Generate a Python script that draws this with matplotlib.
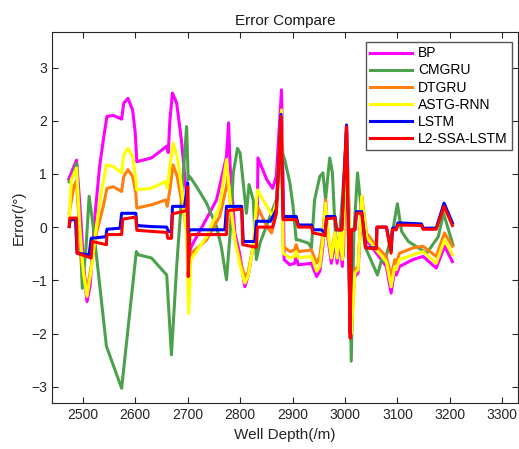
import matplotlib.pyplot as plt

plt.rcParams['font.family'] = ['Liberation Sans', 'DejaVu Sans']

# BP
bp_x = [2473, 2488, 2496, 2502, 2508, 2514, 2522, 2532, 2540, 2546, 2558, 2574, 2578, 2586, 2595,
        2600, 2603, 2631, 2660, 2663, 2666, 2671, 2679, 2688, 2698, 2703, 2707, 2730, 2755, 2774,
        2778, 2781, 2790, 2799, 2809, 2815, 2825, 2833, 2834, 2851, 2862, 2869, 2879, 2882, 2884,
        2895, 2904, 2907, 2911, 2936, 2946, 2952, 2958, 2963, 2968, 2974, 2981, 2985, 2990, 2995,
        3003, 3010, 3019, 3025, 3032, 3041, 3060, 3079, 3088, 3095, 3098, 3104, 3130, 3149, 3174,
        3190, 3205]
bp_y = [0.9, 1.26, 0.2, -0.8, -1.4, -1.1, 0.1, 1.14, 1.7, 2.08, 2.1, 2.03, 2.33, 2.42, 2.2,
        1.77, 1.23, 1.3, 1.52, 1.4, 2.0, 2.52, 2.33, 1.64, 0.58, -0.49, -0.36, 0.05, 0.51, 1.33,
        1.96, 1.14, -0.11, -0.49, -1.12, -0.93, -0.36, 0.26, 1.3, 0.89, 0.73, 0.95, 2.58, 0.89, -0.61,
        -0.71, -0.68, -0.55, -0.71, -0.68, -0.93, -0.83, -0.36, 0.51, -0.24, -0.68, -0.24, -0.68, -0.24, -0.74,
        1.89, -0.5, -0.93, -0.86, 0.58, -0.24, -0.49, -0.74, -1.24, -0.8, -0.9, -0.74, -0.61, -0.55, -0.77,
        -0.36, -0.65]

# CMGRU
cm_x = [2474, 2480, 2488, 2493, 2499, 2506, 2512, 2520, 2545, 2574, 2602, 2606, 2631, 2660, 2669,
        2679, 2688, 2698, 2701, 2704, 2717, 2736, 2755, 2764, 2774, 2781, 2787, 2795, 2800, 2806,
        2812, 2817, 2825, 2831, 2838, 2869, 2879, 2885, 2895, 2901, 2907, 2911, 2930, 2936, 2942,
        2952, 2958, 2963, 2968, 2971, 2976, 2981, 2984, 2990, 2997, 3003, 3009, 3012, 3017, 3024,
        3038, 3062, 3070, 3076, 3092, 3100, 3108, 3121, 3156, 3178, 3188, 3206]
cm_y = [0.85, 0.95, 1.2, 0.3, -1.15, -0.4, 0.58, 0.0, -2.24, -3.03, -0.46, -0.52, -0.58, -0.9, -2.4,
        -0.74, 0.51, 1.89, 0.89, 0.95, 0.76, 0.45, 0.01, -0.36, -0.99, -0.11, 1.02, 1.48, 1.39, 0.83,
        0.26, 0.8, 0.51, -0.61, -0.3, 0.51, 1.45, 1.27, 0.83, 0.39, -0.24, -0.24, -0.3, -0.39, 0.51,
        0.95, 1.02, 0.51, 1.02, 1.3, 1.02, 0.01, -0.55, -0.11, 0.83, 1.77, -0.74, -2.52, -0.11, 1.02,
        -0.36, -0.9, -0.61, -0.65, -0.02, 0.44, -0.08, -0.27, -0.49, -0.18, 0.26, -0.33]

# DTGRU
dt_x = [2474, 2483, 2488, 2497, 2508, 2516, 2526, 2539, 2546, 2558, 2574, 2578, 2586, 2595, 2601,
        2603, 2631, 2658, 2661, 2666, 2672, 2680, 2688, 2698, 2703, 2707, 2736, 2761, 2774, 2777,
        2784, 2793, 2803, 2809, 2815, 2825, 2833, 2851, 2860, 2869, 2879, 2882, 2895, 2904, 2907,
        2911, 2936, 2946, 2952, 2958, 2963, 2968, 2974, 2981, 2985, 2990, 2997, 3003, 3009, 3012,
        3019, 3025, 3032, 3041, 3060, 3079, 3088, 3095, 3098, 3104, 3130, 3149, 3174, 3190, 3205]
dt_y = [0.26, 0.76, 0.89, -0.61, -1.18, -0.74, -0.11, 0.39, 0.73, 0.76, 0.67, 0.95, 1.08, 0.95, 0.64,
        0.36, 0.42, 0.51, 0.39, 0.7, 1.17, 0.95, 0.51, -0.05, -0.8, -0.49, -0.24, 0.2, 0.76, 0.95,
        0.14, -0.36, -0.74, -0.93, -0.86, -0.36, 0.39, 0.01, -0.11, 0.26, 2.2, -0.36, -0.46, -0.43, -0.33,
        -0.46, -0.43, -0.68, -0.55, -0.11, 0.51, -0.24, -0.49, -0.11, -0.49, -0.11, -0.55, 1.77, -0.11, -2.0,
        -0.8, -0.74, 0.58, -0.11, -0.36, -0.55, -0.93, -0.61, -0.68, -0.49, -0.39, -0.36, -0.55, -0.11, -0.36]

# ASTG-RNN
as_x = [2474, 2478, 2488, 2494, 2501, 2508, 2516, 2526, 2535, 2545, 2558, 2574, 2578, 2586, 2595,
        2601, 2603, 2631, 2658, 2661, 2666, 2672, 2680, 2688, 2698, 2702, 2706, 2736, 2761, 2774,
        2781, 2790, 2799, 2809, 2815, 2825, 2833, 2851, 2862, 2869, 2879, 2882, 2895, 2904, 2907,
        2911, 2936, 2946, 2952, 2958, 2963, 2968, 2974, 2981, 2985, 2990, 2995, 3003, 3009, 3012,
        3019, 3025, 3032, 3041, 3060, 3079, 3088, 3095, 3098, 3104, 3130, 3149, 3174, 3190, 3205]
as_y = [0.1, 0.89, 1.11, 0.01, -0.86, -1.3, -0.8, 0.01, 0.64, 1.17, 1.14, 1.02, 1.36, 1.48, 1.33,
        0.89, 0.7, 0.73, 0.86, 0.73, 1.14, 1.58, 1.33, 0.76, -0.11, -1.62, -0.61, -0.18, 0.39, 1.27,
        0.51, -0.24, -0.68, -1.05, -0.93, -0.36, 0.7, 0.39, 0.2, 0.45, 2.2, -0.49, -0.58, -0.55, -0.46,
        -0.58, -0.55, -0.83, -0.74, -0.24, 0.45, -0.11, -0.58, -0.11, -0.58, -0.11, -0.61, 1.77, -0.24, -2.0,
        -0.86, -0.8, 0.58, -0.18, -0.43, -0.65, -1.12, -0.74, -0.8, -0.61, -0.52, -0.46, -0.68, -0.24, -0.52]

# LSTM
ls_x = [2474, 2476, 2486, 2489, 2512, 2516, 2544, 2546, 2571, 2574, 2601, 2603, 2631, 2660, 2663,
        2669, 2671, 2694, 2700, 2701, 2704, 2771, 2774, 2803, 2806, 2828, 2831, 2858, 2869, 2878,
        2882, 2907, 2911, 2936, 2939, 2955, 2962, 2965, 2981, 2984, 2994, 3003, 3010, 3012, 3019,
        3022, 3032, 3040, 3060, 3061, 3079, 3088, 3091, 3098, 3101, 3146, 3149, 3174, 3189, 3205]
ls_y = [0.01, 0.14, 0.14, -0.49, -0.52, -0.21, -0.18, -0.04, -0.02, 0.26, 0.26, 0.03, 0.01, 0.0, -0.08,
        -0.08, 0.39, 0.39, 0.83, -0.11, -0.05, -0.05, 0.39, 0.39, -0.27, -0.27, 0.11, 0.11, 0.33, 2.12,
        0.2, 0.2, 0.04, 0.04, -0.05, -0.05, -0.11, 0.2, 0.2, -0.05, -0.05, 1.92, -2.0, -0.05, -0.05,
        0.29, 0.29, -0.39, -0.39, 0.0, 0.0, -0.45, -0.02, -0.02, 0.08, 0.06, -0.02, -0.02, 0.45, 0.08]

# L2-SSA-LSTM
l2_x = [2474, 2475, 2488, 2489, 2516, 2518, 2545, 2546, 2574, 2576, 2601, 2603, 2631, 2660, 2662,
        2669, 2671, 2698, 2700, 2701, 2704, 2774, 2776, 2803, 2805, 2831, 2833, 2862, 2869, 2878,
        2882, 2907, 2911, 2936, 2939, 2955, 2962, 2965, 2981, 2984, 2994, 3003, 3010, 3012, 3019,
        3022, 3032, 3040, 3060, 3061, 3079, 3088, 3090, 3098, 3101, 3146, 3149, 3174, 3189, 3205]
l2_y = [0.01, 0.17, 0.17, -0.49, -0.58, -0.27, -0.33, -0.14, -0.14, 0.15, 0.19, -0.06, -0.08, -0.1, -0.21,
        -0.21, 0.25, 0.31, 0.76, -0.93, -0.14, -0.14, 0.31, 0.34, -0.33, -0.38, 0.0, 0.0, 0.26, 2.08,
        0.14, 0.14, 0.0, 0.0, -0.11, -0.14, -0.16, 0.16, 0.17, -0.05, -0.05, 1.89, -2.09, -0.05, -0.05,
        0.26, 0.26, -0.39, -0.41, 0.0, 0.0, -0.49, -0.05, -0.05, 0.04, 0.03, -0.04, -0.04, 0.39, 0.03]

series = [
    ("BP", bp_x, bp_y, "#ff00ff"),
    ("CMGRU", cm_x, cm_y, "#4ca24c"),
    ("DTGRU", dt_x, dt_y, "#ff7f0e"),
    ("ASTG-RNN", as_x, as_y, "#ffff00"),
    ("LSTM", ls_x, ls_y, "#0000ff"),
    ("L2-SSA-LSTM", l2_x, l2_y, "#ff0000"),
]

fig = plt.figure(figsize=(5.19, 4.49), dpi=100)
ax = fig.add_axes([0.100, 0.102, 0.898, 0.827])

for name, xs, ys, col in series:
    ax.plot(xs, ys, color=col, linewidth=2.2, label=name)

ax.set_xlim(2441, 3330)
ax.set_ylim(-3.31, 3.67)
ax.set_xticks(range(2500, 3301, 100))
ax.set_yticks(range(-3, 4))
ax.tick_params(direction='in', top=True, right=True, labelsize=10,
               colors='#262626', length=4)
for s in ax.spines.values():
    s.set_color('#262626')
    s.set_linewidth(0.8)

ax.set_title("Error Compare", fontsize=11, color='#1a1a1a', pad=5)
ax.set_xlabel("Well Depth(/m)", fontsize=11, color='#262626')
ax.set_ylabel("Error(/°)", fontsize=11, color='#262626')

leg = ax.legend(loc='upper right', bbox_to_anchor=(0.987, 0.972), borderaxespad=0,
                fontsize=10, handlelength=3.0, fancybox=False, framealpha=1,
                borderpad=0.3, labelspacing=0.22, handletextpad=0.45)
leg.get_frame().set_edgecolor('#555555')
leg.get_frame().set_linewidth(1.0)

fig.savefig("out.png", dpi=100)
